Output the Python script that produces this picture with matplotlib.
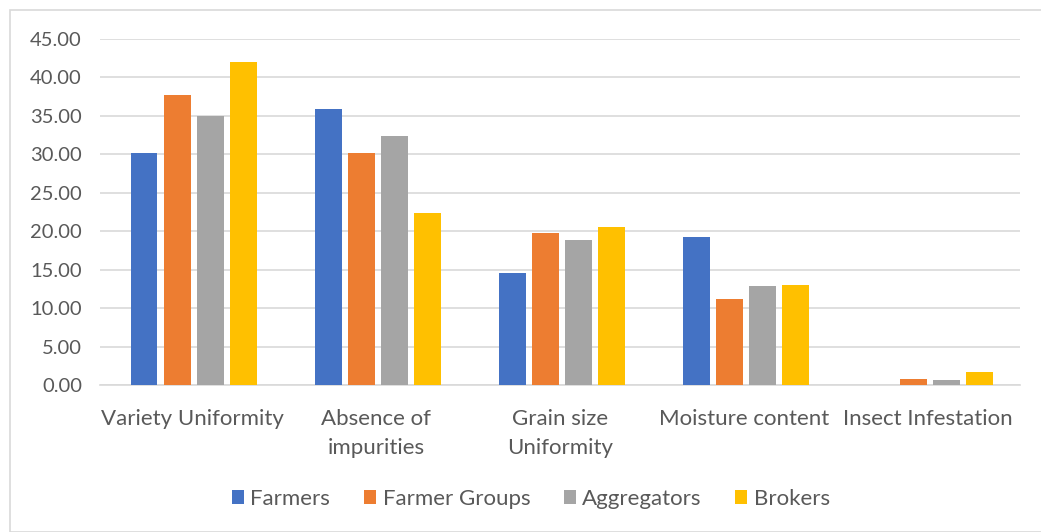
import matplotlib
matplotlib.use("Agg")
import matplotlib.pyplot as plt
from matplotlib.patches import Rectangle
import numpy as np

categories = ["Variety Uniformity", "Absence of\nimpurities", "Grain size\nUniformity",
              "Moisture content", "Insect Infestation"]
series_names = ["Farmers", "Farmer Groups", "Aggregators", "Brokers"]
farmers = [30.22, 35.87, 14.60, 19.27, 0.00]
farmer_groups = [37.67, 30.17, 19.83, 11.25, 0.82]
aggregators = [35.00, 32.41, 18.83, 12.85, 0.62]
brokers = [42.03, 22.40, 20.60, 13.02, 1.75]
colors = ["#4472C4", "#ED7D31", "#A5A5A5", "#FFC000"]
yticks = [0, 5, 10, 15, 20, 25, 30, 35, 40, 45]

plt.rcParams["font.family"] = ["Lato", "DejaVu Sans"]

fig = plt.figure(figsize=(10.41, 5.32), dpi=100)
ax = fig.add_axes([0.096, 0.2763, 0.884, 0.6504])

x = np.arange(len(categories))
step = 0.18
width = 0.145
all_series = [farmers, farmer_groups, aggregators, brokers]
for i, (vals, name, c) in enumerate(zip(all_series, series_names, colors)):
    ax.bar(x + (i - 1.5) * step + 0.01, vals, width, color=c, label=name, zorder=3)

ax.set_xlim(-0.5, len(categories) - 0.5)
ax.set_ylim(0, 45)
ax.set_yticks(yticks)
ax.set_yticklabels([f"{v:.2f}" for v in yticks])
ax.set_xticks(x)
ax.set_xticklabels(categories, linespacing=1.6)
ax.tick_params(axis="both", length=0, colors="#595959")
ax.tick_params(axis="x", labelsize=16, pad=17)
ax.tick_params(axis="y", labelsize=14.5, pad=13)
ax.grid(axis="y", color="#D9D9D9", linewidth=1.2, zorder=0)
for s in ["top", "right", "left"]:
    ax.spines[s].set_visible(False)
ax.spines["bottom"].set_color("#D9D9D9")
ax.spines["bottom"].set_linewidth(1.2)

leg = fig.legend(loc="center", bbox_to_anchor=(0.510, 0.062), ncol=4, frameon=False,
                 fontsize=16, handlelength=0.55, handleheight=0.55, handletextpad=0.3,
                 columnspacing=1.5, labelcolor="#595959")

fig.patches.append(Rectangle((9.5 / 1041, 0), 1.2, (532 - 9.5) / 532, transform=fig.transFigure,
                             fill=False, edgecolor="#D9D9D9", linewidth=1.2))

fig.savefig("out.png", dpi=100)
